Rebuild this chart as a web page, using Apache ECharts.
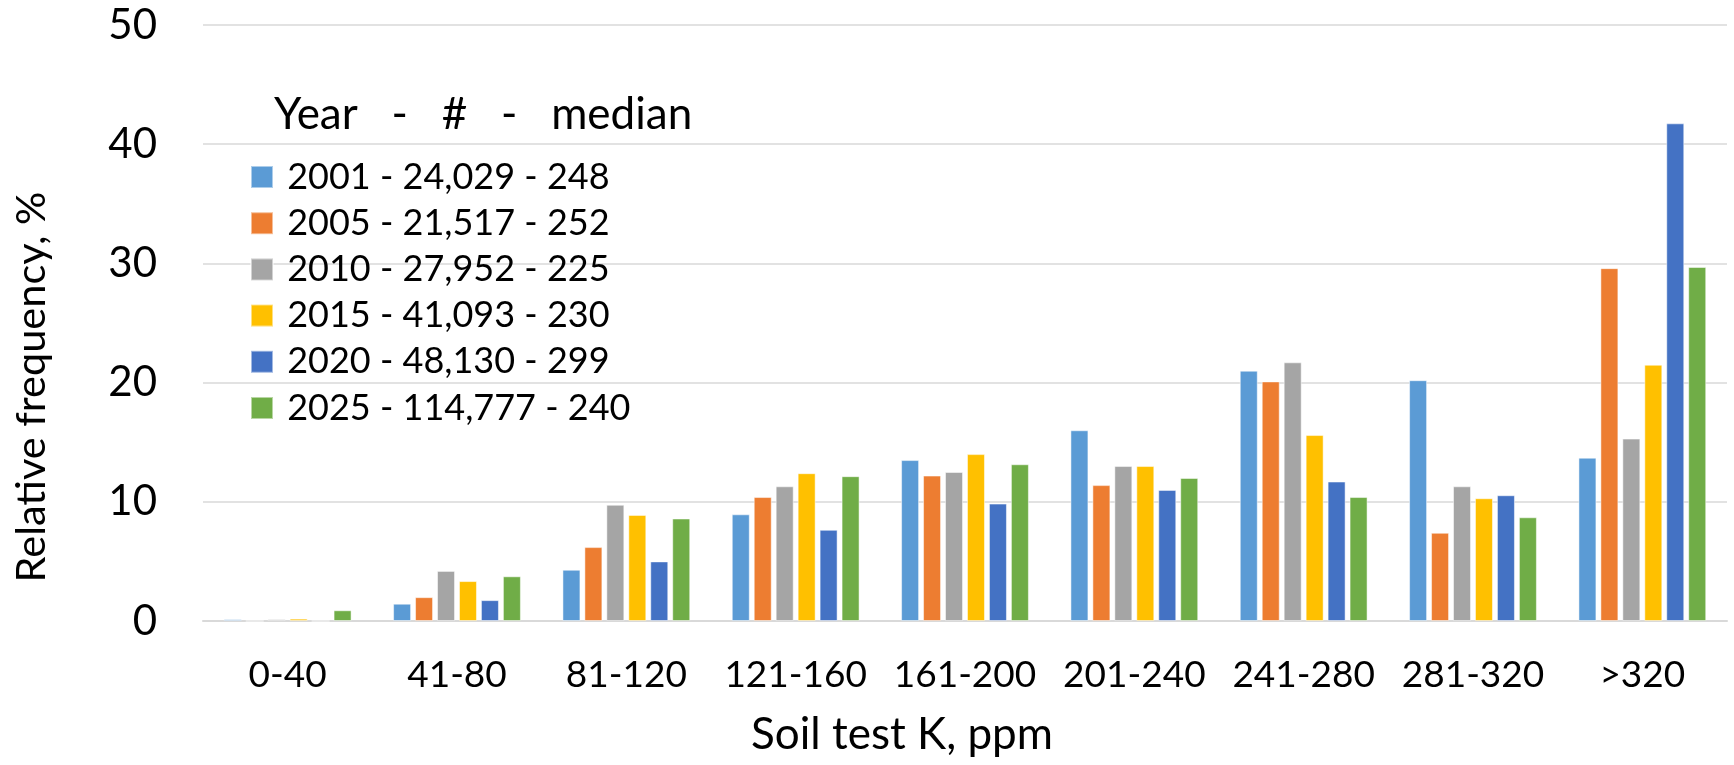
<!DOCTYPE html>
<html lang="en">
<head>
    <meta charset="UTF-8">
    <title>Soil test K distribution</title>
    <script src="https://cdn.jsdelivr.net/npm/echarts/dist/echarts.min.js"></script>
    <style>
        html, body { margin: 0; padding: 0; background: #fff; }
    </style>
</head>
<body>
<div id="main" style="width: 1734px;height:765px;"></div>
<script>
    // soil test K ranges, ppm
    var categories = ['0-40', '41-80', '81-120', '121-160', '161-200', '201-240', '241-280', '281-320', '>320'];
    // legend: year - # samples - median
    var seriesNames = [
        '2001 - 24,029 - 248',
        '2005 - 21,517 - 252',
        '2010 - 27,952 - 225',
        '2015 - 41,093 - 230',
        '2020 - 48,130 - 299',
        '2025 - 114,777 - 240'
    ];
    // relative frequency, %
    var y2001 = [0.15, 1.45, 4.3, 8.95, 13.5, 16.0, 21.0, 20.2, 13.7];
    var y2005 = [0, 2.0, 6.2, 10.4, 12.2, 11.4, 20.1, 7.4, 29.6];
    var y2010 = [0.15, 4.2, 9.75, 11.3, 12.5, 13.0, 21.7, 11.3, 15.3];
    var y2015 = [0.2, 3.35, 8.9, 12.4, 14.0, 13.0, 15.6, 10.3, 21.5];
    var y2020 = [0, 1.75, 5.0, 7.65, 9.85, 11.0, 11.7, 10.55, 41.75];
    var y2025 = [0.9, 3.75, 8.6, 12.15, 13.15, 12.0, 10.4, 8.7, 29.7];
    var yTicks = [0, 10, 20, 30, 40, 50];

    var colors = ['#5B9BD5', '#ED7D31', '#A5A5A5', '#FFC000', '#4472C4', '#70AD47'];
    var allData = [y2001, y2005, y2010, y2015, y2020, y2025];
    var font = 'Lato, "Open Sans", sans-serif';

    var series = [];
    for (var i = 0; i < allData.length; i++) {
        series.push({
            name: seriesNames[i],
            type: 'bar',
            barWidth: 18,
            barGap: '22%',
            itemStyle: {
                color: colors[i],
                borderColor: 'rgba(255,255,255,0.5)',
                borderWidth: 1
            },
            data: allData[i]
        });
    }

    var myChart = echarts.init(document.getElementById('main'));
    var option = {
        animation: false,
        color: colors,
        textStyle: { fontFamily: font },
        grid: { left: 203, right: 7, top: 25, bottom: 144, containLabel: false },
        legend: {
            orient: 'vertical',
            left: 245,
            top: 154,
            icon: 'rect',
            itemWidth: 22,
            itemHeight: 22,
            itemGap: 10.2,
            formatter: function (name) { return ' ' + name; },
            textStyle: { fontSize: 36, lineHeight: 36, color: '#000', fontFamily: font },
            data: seriesNames
        },
        xAxis: {
            type: 'category',
            data: categories,
            axisTick: { show: false },
            axisLine: { lineStyle: { color: '#d9d9d9', width: 2 } },
            axisLabel: { fontSize: 37, color: '#000', margin: 36, interval: 0, fontFamily: font }
        },
        yAxis: {
            type: 'value',
            min: yTicks[0],
            max: yTicks[yTicks.length - 1],
            interval: 10,
            axisLine: { show: false },
            axisTick: { show: false },
            splitLine: { lineStyle: { color: '#d9d9d9', width: 1.5 } },
            axisLabel: { fontSize: 42, color: '#000', margin: 46, fontFamily: font }
        },
        graphic: [
            {
                type: 'text',
                x: 274, y: 115,
                style: {
                    text: 'Year   -   #   -   median',
                    font: '44px ' + font,
                    fill: '#000',
                    textVerticalAlign: 'middle'
                }
            },
            {
                type: 'text',
                x: 32, y: 387,
                rotation: Math.PI / 2,
                style: {
                    text: 'Relative frequency, %',
                    font: '41.5px ' + font,
                    fill: '#000',
                    textAlign: 'center',
                    textVerticalAlign: 'middle'
                }
            },
            {
                type: 'text',
                x: 902, y: 735,
                style: {
                    text: 'Soil test K, ppm',
                    font: '44px ' + font,
                    fill: '#000',
                    textAlign: 'center',
                    textVerticalAlign: 'middle'
                }
            }
        ],
        series: series
    };

    myChart.setOption(option);
</script>
</body>
</html>
